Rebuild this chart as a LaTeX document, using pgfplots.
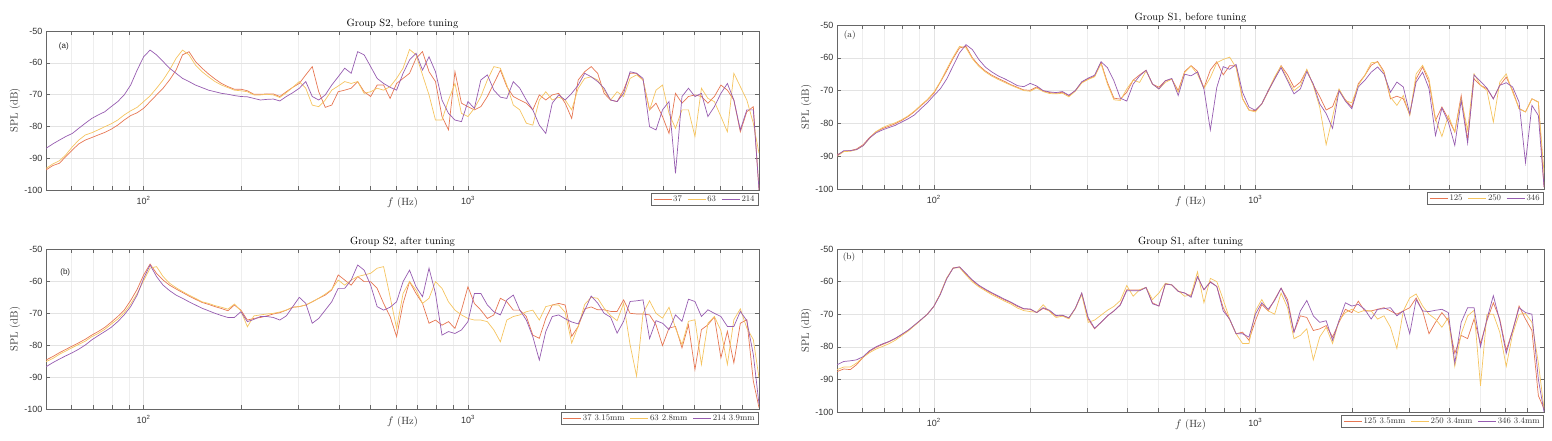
\documentclass[border=0pt]{standalone}
\usepackage{fontspec}
\usepackage{pgfplots}
\usepackage{pgfplotstable}
\pgfplotsset{compat=1.18}
\newfontfamily\ticksans{Liberation Sans}
\definecolor{cO}{RGB}{230,118,82}
\definecolor{cY}{RGB}{245,196,96}
\definecolor{cP}{RGB}{150,92,176}

\pgfplotstableread{
f o y p
50 -93.7 -93.2 -86.9
52.5 -92.3 -91.8 -85.5
55.0 -91.6 -90.8 -84.3
57.5 -89.5 -89.0 -83.2
60.3 -87.4 -86.4 -82.2
63.1 -85.5 -84.3 -80.6
66.1 -84.3 -82.7 -79.0
69.2 -83.5 -82.0 -77.5
72.4 -82.7 -81.1 -76.4
75.9 -81.9 -80.1 -75.4
79.4 -80.9 -79.2 -73.8
83.2 -79.6 -78.0 -72.2
87.1 -78.0 -76.4 -70.1
91.2 -76.6 -75.1 -67.0
95.5 -75.7 -74.0 -62.3
100 -74.3 -72.2 -58.1
104.7 -72.2 -70.4 -56.0
109.6 -70.1 -68.0 -57.5
114.8 -68.0 -65.4 -59.6
120.2 -65.4 -62.3 -61.7
125.9 -62.3 -58.6 -63.3
131.8 -57.5 -56.0 -64.9
138.0 -56.5 -57.5 -65.9
144.5 -59.6 -60.7 -67.0
151.4 -61.7 -62.8 -67.8
158.5 -63.5 -64.4 -68.6
166.0 -65.1 -65.9 -69.1
173.8 -66.5 -67.0 -69.6
182.0 -67.5 -67.8 -69.9
190.5 -68.3 -68.6 -70.3
199.5 -68.3 -68.8 -70.6
208.9 -68.8 -69.1 -70.7
218.8 -69.9 -70.1 -71.2
229.1 -69.9 -70.1 -71.7
239.9 -69.8 -69.9 -71.5
251.2 -69.8 -70.1 -71.4
263.0 -70.6 -70.9 -72.0
275.4 -69.1 -69.4 -70.6
288.4 -67.7 -67.7 -69.4
302.0 -66.5 -65.9 -68.0
316.2 -63.8 -68.0 -65.9
331.1 -61.2 -73.3 -70.6
346.7 -69.1 -73.8 -71.7
363.1 -74.0 -71.7 -70.1
380.2 -73.3 -68.6 -67.0
398.1 -69.1 -67.3 -64.4
416.9 -68.6 -65.9 -61.7
436.5 -68.0 -66.5 -63.3
457.1 -65.9 -65.9 -56.5
478.6 -69.1 -69.6 -57.5
501.2 -70.6 -69.1 -61.2
524.8 -67.0 -68.0 -64.9
549.5 -67.0 -68.6 -66.5
575.4 -71.2 -67.5 -67.7
602.6 -66.5 -64.9 -68.6
631.0 -64.9 -61.7 -63.3
660.7 -63.3 -55.8 -59.1
691.8 -58.6 -57.5 -57.0
724.4 -56.5 -63.8 -62.3
758.6 -62.8 -70.1 -58.1
794.3 -65.9 -78.0 -62.8
831.8 -76.9 -78.0 -71.7
871.0 -81.1 -71.7 -75.9
912.0 -62.8 -66.5 -78.0
955.0 -72.7 -75.9 -78.5
1000 -73.8 -76.9 -72.2
1047 -74.8 -74.3 -74.3
1096 -73.8 -70.6 -65.4
1148 -70.6 -65.4 -63.8
1202 -66.5 -61.2 -68.6
1259 -62.3 -61.7 -70.8
1318 -67.5 -67.0 -71.2
1380 -70.6 -73.3 -65.9
1445 -71.7 -74.8 -68.0
1514 -72.7 -79.0 -71.7
1585 -74.8 -79.6 -74.8
1660 -70.1 -71.7 -79.6
1738 -71.7 -69.1 -82.2
1820 -70.1 -71.7 -72.7
1905 -69.6 -70.8 -70.1
1995 -72.7 -71.7 -71.7
2089 -77.5 -74.8 -69.6
2188 -65.4 -68.0 -67.0
2291 -62.8 -64.9 -63.3
2399 -61.2 -64.4 -64.4
2512 -63.3 -65.4 -65.9
2630 -69.6 -68.6 -68.0
2754 -71.7 -71.7 -71.7
2884 -72.2 -69.1 -72.2
3020 -68.6 -70.6 -69.6
3162 -63.3 -64.9 -62.8
3311 -63.3 -63.8 -63.3
3467 -65.4 -65.4 -64.9
3631 -74.8 -74.8 -80.1
3802 -72.7 -68.6 -81.1
3981 -76.9 -67.0 -74.8
4169 -82.2 -75.9 -72.2
4365 -69.6 -80.6 -94.8
4571 -72.7 -74.8 -70.6
4786 -70.6 -74.8 -68.0
5012 -70.1 -83.2 -70.6
5248 -70.6 -68.0 -69.6
5495 -72.7 -71.2 -76.9
5754 -70.6 -72.2 -73.8
6026 -67.0 -76.9 -69.6
6310 -68.6 -81.7 -66.5
6607 -71.7 -63.3 -71.7
6918 -81.7 -67.5 -81.1
7244 -75.4 -71.7 -74.8
7586 -73.8 -79.0 -74.8
7900 -100 -88.5 -100
}\tTL

\pgfplotstableread{
f o y p
50 -84.7 -85.2 -86.8
52.5 -83.6 -84.2 -85.5
55.0 -82.4 -82.9 -84.4
57.5 -81.4 -81.9 -83.4
60.3 -80.3 -80.8 -82.4
63.1 -79.3 -79.8 -81.3
66.1 -78.2 -78.8 -80.0
69.2 -76.9 -77.4 -78.4
72.4 -75.8 -76.4 -77.1
75.9 -74.5 -75.1 -75.8
79.4 -72.9 -73.5 -74.5
83.2 -71.1 -71.9 -72.7
87.1 -69.1 -69.9 -70.6
91.2 -66.1 -67.2 -68.0
95.5 -62.6 -63.9 -64.4
100 -58.1 -59.9 -59.2
104.7 -54.7 -56.0 -55.0
109.6 -57.6 -55.5 -58.6
114.8 -59.7 -58.6 -61.3
120.2 -61.3 -60.7 -63.0
125.9 -62.5 -62.1 -64.4
131.8 -63.6 -63.3 -65.4
138.0 -64.7 -64.4 -66.5
144.5 -65.7 -65.4 -67.5
151.4 -66.7 -66.5 -68.5
158.5 -67.3 -67.0 -69.3
166.0 -68.0 -67.7 -70.1
173.8 -68.6 -68.2 -70.8
182.0 -69.3 -68.8 -71.4
190.5 -67.5 -67.2 -71.4
199.5 -69.1 -69.3 -69.6
208.9 -72.2 -74.3 -72.7
218.8 -71.7 -70.9 -72.0
229.1 -71.4 -70.6 -71.1
239.9 -70.9 -70.3 -71.1
251.2 -70.3 -70.1 -71.4
263.0 -69.9 -69.7 -72.2
275.4 -69.1 -69.1 -70.9
288.4 -68.2 -68.2 -68.0
302.0 -68.0 -68.0 -65.1
316.2 -67.5 -67.5 -67.0
331.1 -66.5 -66.5 -73.2
346.7 -65.4 -65.4 -71.7
363.1 -64.4 -64.1 -69.1
380.2 -62.8 -62.6 -66.5
398.1 -58.1 -59.7 -62.3
416.9 -59.7 -61.3 -62.3
436.5 -61.3 -59.7 -59.7
457.1 -58.6 -58.6 -55.0
478.6 -60.2 -58.1 -56.6
501.2 -60.2 -57.6 -61.3
524.8 -62.3 -56.0 -68.0
549.5 -67.0 -55.5 -69.1
575.4 -71.1 -64.9 -68.2
602.6 -77.4 -74.8 -66.5
631.0 -67.0 -63.9 -60.2
660.7 -60.2 -60.2 -56.6
691.8 -63.9 -62.8 -61.8
724.4 -67.0 -67.0 -64.9
758.6 -73.2 -65.4 -56.0
794.3 -72.2 -60.2 -63.9
831.8 -73.8 -62.3 -76.9
871.0 -72.7 -66.5 -75.8
912.0 -74.8 -69.1 -76.4
955.0 -69.1 -70.6 -75.3
1000 -61.8 -71.7 -72.7
1047 -67.0 -72.2 -63.9
1096 -69.1 -72.2 -63.9
1148 -71.7 -72.7 -67.5
1202 -70.6 -75.3 -69.6
1259 -65.4 -79.0 -70.6
1318 -66.5 -72.2 -65.9
1380 -69.1 -71.1 -64.4
1445 -69.1 -70.6 -69.1
1514 -71.1 -69.6 -72.2
1585 -76.9 -69.1 -77.4
1660 -77.9 -72.2 -84.7
1738 -71.7 -68.0 -75.8
1820 -67.5 -67.5 -71.1
1905 -67.0 -67.5 -70.6
1995 -67.5 -69.8 -71.8
2089 -77.3 -79.4 -72.8
2188 -74.2 -74.2 -73.4
2291 -68.7 -67.3 -69.2
2399 -68.1 -65.1 -64.7
2512 -69.0 -65.4 -66.9
2630 -69.0 -68.5 -70.1
2754 -69.5 -70.8 -71.3
2884 -69.5 -72.4 -76.3
3020 -65.9 -67.0 -72.6
3162 -70.1 -79.9 -66.4
3311 -70.3 -89.7 -66.2
3467 -70.3 -70.1 -65.9
3631 -70.6 -66.2 -78.0
3802 -73.7 -70.1 -72.4
3981 -80.2 -71.6 -73.2
4169 -74.7 -68.2 -75.2
4365 -74.2 -74.7 -70.6
4571 -80.9 -79.9 -72.6
4786 -73.7 -72.6 -65.7
5012 -87.7 -72.1 -66.4
5248 -75.2 -86.1 -71.1
5495 -73.7 -73.2 -69.0
5754 -71.2 -71.1 -70.1
6026 -84.0 -75.5 -71.1
6310 -75.7 -86.1 -74.2
6607 -85.6 -72.1 -74.2
6918 -73.2 -68.7 -69.5
7244 -72.1 -74.7 -72.4
7586 -91.3 -78.3 -83.0
7900 -99.6 -90.3 -98.5
}\tBL

\pgfplotstableread{
f o y p
50 -89.6 -90.0 -89.8
52.5 -88.5 -88.6 -88.3
55.0 -88.3 -88.5 -88.3
57.5 -87.8 -88.0 -88.0
60.3 -86.5 -86.8 -86.8
63.1 -84.3 -84.6 -84.5
66.1 -82.6 -82.5 -82.9
69.2 -81.6 -81.3 -82.0
72.4 -80.9 -80.5 -81.3
75.9 -80.1 -79.8 -80.6
79.4 -79.1 -78.9 -79.6
83.2 -77.9 -77.7 -78.6
87.1 -76.4 -76.2 -77.4
91.2 -74.6 -74.4 -75.5
95.5 -72.9 -72.7 -73.7
100 -70.8 -70.5 -71.5
104.7 -67.5 -67.3 -69.5
109.6 -64.0 -63.5 -66.5
114.8 -60.2 -59.8 -62.5
120.2 -57.0 -56.5 -58.5
125.9 -56.5 -57.0 -56.0
131.8 -60.0 -60.3 -57.5
138.0 -62.3 -62.6 -60.5
144.5 -64.0 -64.3 -62.8
151.4 -65.3 -65.6 -64.3
158.5 -66.3 -66.6 -65.5
166.0 -67.2 -67.5 -66.4
173.8 -68.2 -68.4 -67.4
182.0 -69.0 -69.2 -68.5
190.5 -69.8 -70.0 -68.8
199.5 -69.9 -70.2 -67.8
208.9 -68.9 -69.2 -68.6
218.8 -70.1 -70.3 -70.0
229.1 -70.6 -70.9 -70.4
239.9 -70.8 -71.0 -70.6
251.2 -70.5 -70.8 -70.3
263.0 -71.6 -71.9 -71.4
275.4 -70.0 -70.2 -70.0
288.4 -67.5 -67.7 -67.3
302.0 -66.4 -66.6 -66.2
316.2 -65.6 -65.8 -65.3
331.1 -61.4 -61.8 -61.2
346.7 -67.5 -68.0 -63.0
363.1 -72.3 -72.8 -67.0
380.2 -72.6 -73.0 -72.3
398.1 -70.5 -69.5 -73.2
416.9 -66.8 -66.8 -68.0
436.5 -65.2 -67.5 -65.5
457.1 -63.8 -64.0 -63.8
478.6 -68.0 -68.0 -68.0
501.2 -69.0 -69.5 -69.5
524.8 -67.0 -67.5 -67.0
549.5 -66.5 -66.5 -66.3
575.4 -70.0 -70.5 -71.5
602.6 -64.2 -64.5 -65.0
631.0 -62.4 -62.5 -65.5
660.7 -64.1 -65.0 -64.3
691.8 -69.2 -69.3 -69.5
724.4 -63.7 -66.0 -82.0
758.6 -61.2 -61.5 -69.0
794.3 -65.2 -60.5 -62.7
831.8 -62.4 -59.8 -63.5
871.0 -62.5 -63.0 -62.0
912.0 -72.4 -72.5 -70.5
955.0 -75.9 -76.0 -75.0
1000 -76.1 -76.5 -76.0
1047 -74.1 -74.0 -74.0
1096 -70.3 -70.0 -70.0
1148 -66.3 -65.8 -66.5
1202 -62.4 -62.5 -63.0
1259 -65.2 -66.5 -67.0
1318 -69.0 -70.0 -71.0
1380 -67.4 -68.5 -69.5
1445 -63.7 -63.5 -64.2
1514 -68.3 -68.5 -68.0
1585 -71.8 -75.0 -74.0
1660 -75.9 -86.5 -77.0
1738 -74.9 -78.0 -81.5
1820 -69.8 -69.5 -70.0
1905 -72.8 -73.1 -73.2
1995 -75.0 -73.7 -75.5
2089 -67.9 -68.4 -68.9
2188 -65.4 -65.4 -66.9
2291 -62.3 -61.5 -64.4
2399 -61.1 -61.3 -62.8
2512 -64.2 -64.6 -65.0
2630 -72.5 -72.0 -70.5
2754 -71.7 -74.5 -67.4
2884 -72.5 -71.5 -68.9
3020 -77.3 -77.6 -77.1
3162 -66.4 -64.9 -67.4
3311 -62.8 -62.3 -64.4
3467 -67.4 -66.4 -69.4
3631 -79.1 -78.6 -83.7
3802 -75.0 -84.0 -75.3
3981 -78.6 -77.6 -79.6
4169 -82.6 -82.6 -86.7
4365 -71.5 -72.5 -73.0
4571 -85.0 -82.0 -86.0
4786 -66.4 -64.9 -65.2
5012 -68.4 -68.4 -67.2
5248 -69.4 -69.9 -69.2
5495 -72.5 -79.6 -72.5
5754 -68.4 -67.4 -68.4
6026 -65.9 -64.9 -67.6
6310 -70.0 -70.5 -68.9
6607 -75.5 -75.5 -73.5
6918 -76.5 -76.5 -92.0
7244 -72.5 -72.5 -74.5
7586 -73.5 -73.5 -77.6
7900 -99.4 -95.0 -99.4
}\tTR

\pgfplotstableread{
f o y p
50 -87.6 -87.0 -85.5
52.5 -86.8 -86.2 -84.5
55.0 -87.0 -86.2 -84.3
57.5 -85.5 -85.0 -84.0
60.3 -83.2 -83.2 -83.0
63.1 -81.4 -81.8 -81.2
66.1 -80.2 -80.7 -80.0
69.2 -79.3 -79.9 -79.1
72.4 -78.5 -79.1 -78.4
75.9 -77.5 -78.0 -77.4
79.4 -76.3 -76.6 -76.2
83.2 -75.0 -75.2 -74.9
87.1 -73.4 -73.5 -73.3
91.2 -71.7 -71.8 -71.7
95.5 -70.0 -70.0 -70.0
100 -67.6 -67.6 -67.6
104.7 -63.8 -63.8 -64.0
109.6 -59.0 -59.0 -59.2
114.8 -55.8 -55.9 -55.9
120.2 -55.5 -55.7 -55.5
125.9 -57.7 -58.0 -57.5
131.8 -59.7 -60.1 -59.5
138.0 -61.3 -61.6 -61.1
144.5 -62.5 -62.8 -62.3
151.4 -63.6 -64.0 -63.4
158.5 -64.6 -65.0 -64.4
166.0 -65.6 -66.0 -65.4
173.8 -66.5 -66.9 -66.3
182.0 -67.6 -68.1 -67.4
190.5 -68.4 -68.9 -68.3
199.5 -68.5 -69.2 -68.4
208.9 -69.5 -69.4 -69.5
218.8 -68.2 -67.1 -68.0
229.1 -69.0 -69.2 -68.8
239.9 -70.6 -71.0 -70.4
251.2 -70.4 -70.6 -70.3
263.0 -71.2 -71.4 -71.1
275.4 -68.3 -68.2 -68.2
288.4 -63.6 -64.0 -63.5
302.0 -71.5 -72.5 -71.0
316.2 -74.5 -71.8 -74.3
331.1 -72.5 -70.3 -72.5
346.7 -70.5 -68.8 -70.5
363.1 -69.0 -67.6 -69.0
380.2 -67.0 -65.8 -67.2
398.1 -62.5 -61.2 -62.8
416.9 -62.6 -64.5 -62.8
436.5 -62.6 -62.5 -62.8
457.1 -61.8 -61.8 -61.8
478.6 -66.5 -65.5 -66.8
501.2 -67.5 -63.5 -67.5
524.8 -60.8 -60.5 -60.7
549.5 -61.0 -61.0 -61.0
575.4 -63.0 -62.8 -63.0
602.6 -63.5 -64.5 -63.5
631.0 -64.5 -64.0 -64.8
660.7 -58.5 -57.0 -58.5
691.8 -62.5 -66.5 -62.5
724.4 -60.0 -59.0 -60.2
758.6 -61.5 -60.0 -61.5
794.3 -68.0 -65.5 -69.0
831.8 -71.7 -71.5 -71.5
871.0 -76.0 -76.0 -76.0
912.0 -75.5 -79.0 -76.0
955.0 -78.0 -79.0 -77.0
1000 -72.0 -69.0 -70.0
1047 -67.0 -65.5 -66.5
1096 -69.0 -69.0 -68.5
1148 -65.5 -70.0 -65.8
1202 -62.0 -63.5 -62.0
1259 -65.5 -68.0 -66.5
1318 -75.5 -77.5 -75.5
1380 -70.5 -76.5 -69.0
1445 -71.0 -74.5 -65.8
1514 -75.0 -84.0 -70.5
1585 -74.5 -77.0 -72.5
1660 -73.5 -74.0 -72.0
1738 -77.0 -79.0 -78.0
1820 -72.5 -72.0 -72.0
1905 -68.5 -69.5 -66.5
1995 -69.5 -68.5 -67.5
2089 -66.0 -69.5 -67.0
2188 -69.0 -68.8 -68.5
2291 -69.0 -69.0 -71.5
2399 -68.5 -71.5 -68.5
2512 -68.0 -70.5 -68.3
2630 -69.0 -74.0 -68.0
2754 -70.0 -80.5 -70.5
2884 -69.0 -69.0 -69.0
3020 -68.0 -65.0 -76.0
3162 -65.0 -63.8 -65.5
3311 -69.0 -67.5 -69.0
3467 -76.0 -70.0 -69.2
3631 -72.5 -71.5 -68.8
3802 -69.5 -74.0 -68.5
3981 -72.0 -71.0 -69.5
4169 -82.0 -86.0 -85.0
4365 -76.5 -76.0 -72.5
4571 -77.5 -70.5 -68.0
4786 -71.5 -68.8 -68.0
5012 -79.0 -92.0 -80.0
5248 -72.0 -70.0 -71.5
5495 -66.5 -70.0 -64.3
5754 -71.5 -75.5 -72.0
6026 -81.0 -86.0 -82.0
6310 -75.0 -76.0 -75.0
6607 -67.5 -70.0 -68.0
6918 -71.5 -69.8 -69.5
7244 -75.0 -72.5 -70.0
7586 -95.0 -85.0 -90.0
7900 -99.0 -99.0 -100
}\tBR

\pgfplotsset{
  every axis/.append style={
    scale only axis,
    xmin=50, xmax=7900, ymin=-100, ymax=-50,
    xtick={100,1000}, xticklabels={10\textsuperscript{2},10\textsuperscript{3}},
    minor xtick={60,70,80,90,200,300,400,500,600,700,800,900,2000,3000,4000,5000,6000,7000},
    ytick={-100,-90,-80,-70,-60,-50}, yticklabels={-100,-90,-80,-70,-60,-50},
    xmajorgrids=true, xminorgrids=true, ymajorgrids=true,
    major grid style={gray!22, line width=0.4pt},
    minor grid style={gray!13, line width=0.4pt},
    axis line style={black!60, line width=0.6pt},
    tick style={black!60, line width=0.5pt},
    major tick length=4pt, minor tick length=4pt,
    xticklabel style={font=\ticksans\fontsize{9}{10}\selectfont, text=black!80, yshift=-3pt},
    yticklabel style={font=\ticksans\fontsize{9}{10}\selectfont, text=black!80},
    xlabel={$f$ (Hz)}, ylabel={SPL (dB)},
    xlabel style={font=\fontsize{10.5}{12}\selectfont, text=black!80, at={(axis description cs:0.5,0)}, anchor=north, yshift=-4pt},
    ylabel style={font=\fontsize{10.5}{12}\selectfont, text=black!80, at={(axis description cs:-0.0435,0.5)}, anchor=center},
    title style={font=\fontsize{10.5}{12}\selectfont, at={(0.5,1)}, anchor=south, inner sep=2pt, yshift=-6pt},
    legend columns=3, legend cell align=left,
    legend style={at={(1,0)}, anchor=north east, xshift=-1pt, yshift=-3pt,
      font=\fontsize{8.5}{9}\selectfont, draw=black!60,
      inner xsep=2pt, inner ysep=1pt, nodes={inner sep=1.2pt, text=black!80},
      /tikz/every even column/.append style={column sep=4pt}},
  },
  legend image code/.code={\draw[#1, line width=1pt] (0pt,0pt) -- (18pt,0pt);},
}

\begin{document}
\begin{tikzpicture}
\useasboundingbox (0,0) rectangle (1552pt,-441pt);

\begin{semilogxaxis}[at={(46pt,-31pt)}, anchor=north west, width=713pt, height=159pt,
  title={Group S2, before tuning}]
\addplot[cO, line width=0.7pt] table[x=f,y=o] {\tTL};
\addplot[cY, line width=0.7pt] table[x=f,y=y] {\tTL};
\addplot[cP, line width=0.7pt] table[x=f,y=p] {\tTL};
\legend{37,63,214}
\node[font=\ticksans\fontsize{8}{9}\selectfont, text=black!85] at (axis description cs:0.025,0.90) {(a)};
\end{semilogxaxis}

\begin{semilogxaxis}[at={(46pt,-249pt)}, anchor=north west, width=713pt, height=160pt,
  title={Group S2, after tuning}]
\addplot[cO, line width=0.7pt] table[x=f,y=o] {\tBL};
\addplot[cY, line width=0.7pt] table[x=f,y=y] {\tBL};
\addplot[cP, line width=0.7pt] table[x=f,y=p] {\tBL};
\legend{37 3.15mm,63 2.8mm,214 3.9mm}
\node[font=\ticksans\fontsize{8}{9}\selectfont, text=black!85] at (axis description cs:0.027,0.856) {(b)};
\end{semilogxaxis}

\begin{semilogxaxis}[at={(837pt,-25pt)}, anchor=north west, width=707pt, height=164pt,
  title={Group S1, before tuning}]
\addplot[cO, line width=0.7pt] table[x=f,y=o] {\tTR};
\addplot[cY, line width=0.7pt] table[x=f,y=y] {\tTR};
\addplot[cP, line width=0.7pt] table[x=f,y=p] {\tTR};
\legend{125,250,346}
\node[font=\fontsize{9}{10}\selectfont, text=black!85] at (axis description cs:0.018,0.939) {(a)};
\end{semilogxaxis}

\begin{semilogxaxis}[at={(837pt,-249pt)}, anchor=north west, width=707pt, height=163pt,
  title={Group S1, after tuning}]
\addplot[cO, line width=0.7pt] table[x=f,y=o] {\tBR};
\addplot[cY, line width=0.7pt] table[x=f,y=y] {\tBR};
\addplot[cP, line width=0.7pt] table[x=f,y=p] {\tBR};
\legend{125 3.5mm,250 3.4mm,346 3.4mm}
\node[font=\fontsize{9}{10}\selectfont, text=black!85] at (axis description cs:0.017,0.951) {(b)};
\end{semilogxaxis}
\end{tikzpicture}
\end{document}
